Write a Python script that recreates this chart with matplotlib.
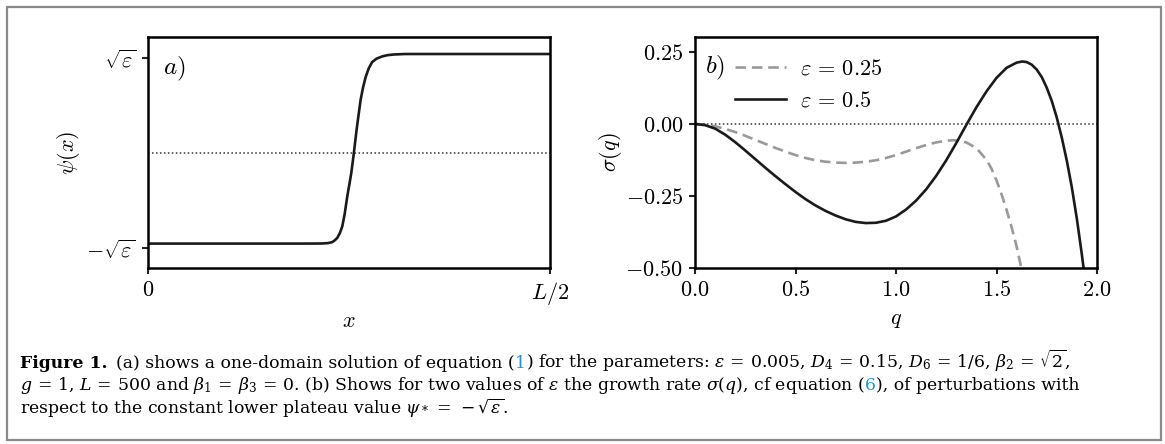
import matplotlib
matplotlib.use('Agg')
import matplotlib.pyplot as plt
from matplotlib.patches import Rectangle

plt.rcParams['mathtext.fontset'] = 'cm'
plt.rcParams['axes.linewidth'] = 1.8

W, H = 1165, 444

# panel a) one-domain profile, psi in units of sqrt(eps), x from 0 to L/2
x_a = [0, 50, 100, 108, 112, 114.5, 116, 117.7, 119.3, 120.8, 122.3, 123.9, 125.2,
       126.4, 128.0, 129.7, 131.0, 132.2, 133.7, 135.3, 137.3, 139.4, 142.0, 145.7,
       149.0, 152.9, 160, 200, 250]
psi_a = [-0.95, -0.95, -0.95, -0.949, -0.945, -0.935, -0.918, -0.89, -0.84, -0.77,
         -0.64, -0.456, -0.33, -0.21, 0.0, 0.245, 0.41, 0.56, 0.69, 0.80, 0.895, 0.96,
         0.995, 1.02, 1.033, 1.04, 1.045, 1.045, 1.045]
xticks_a = [0, 250]
xticklabels_a = ['$0$', '$L/2$']
yticks_a = [-1, 1]
yticklabels_a = [r'$-\sqrt{\varepsilon}$', r'$\sqrt{\varepsilon}$']

# panel b) growth rate sigma(q), eps = 0.5
q_05 = [0.0, 0.05, 0.10, 0.15, 0.20, 0.25, 0.30, 0.35, 0.40, 0.45, 0.50, 0.55, 0.60,
        0.65, 0.70, 0.75, 0.80, 0.85, 0.90, 0.95, 1.00, 1.05, 1.10, 1.15, 1.20, 1.25,
        1.30, 1.35, 1.40, 1.45, 1.50, 1.55, 1.60, 1.628, 1.65, 1.675, 1.70, 1.725, 1.75,
        1.775, 1.80, 1.825, 1.85, 1.875, 1.90, 1.925, 1.935]
sig_05 = [0.0, -0.004, -0.016, -0.037, -0.063, -0.092, -0.122, -0.152, -0.181, -0.209,
          -0.236, -0.261, -0.283, -0.302, -0.318, -0.331, -0.340, -0.344, -0.343, -0.336,
          -0.321, -0.297, -0.266, -0.227, -0.180, -0.126, -0.066, -0.003, 0.058, 0.113,
          0.160, 0.195, 0.213, 0.217, 0.215, 0.206, 0.189, 0.163, 0.126, 0.080, 0.022,
          -0.048, -0.128, -0.221, -0.330, -0.455, -0.51]
# eps = 0.25
q_025 = [0.0, 0.05, 0.10, 0.15, 0.20, 0.25, 0.30, 0.35, 0.40, 0.45, 0.50, 0.55, 0.60,
         0.65, 0.70, 0.75, 0.80, 0.85, 0.90, 0.95, 1.00, 1.05, 1.10, 1.15, 1.20, 1.25,
         1.28, 1.30, 1.35, 1.40, 1.45, 1.475, 1.50, 1.525, 1.55, 1.575, 1.60, 1.625, 1.64]
sig_025 = [0.0, -0.002, -0.008, -0.017, -0.028, -0.041, -0.055, -0.069, -0.083, -0.096,
           -0.108, -0.118, -0.126, -0.131, -0.134, -0.135, -0.134, -0.131, -0.126, -0.118,
           -0.108, -0.096, -0.084, -0.073, -0.064, -0.058, -0.0565, -0.057, -0.064, -0.084,
           -0.124, -0.155, -0.196, -0.244, -0.298, -0.358, -0.425, -0.505, -0.56]
xticks_b = [0.0, 0.5, 1.0, 1.5, 2.0]
yticks_b = [-0.50, -0.25, 0.00, 0.25]

fig = plt.figure(figsize=(W / 100, H / 100), dpi=100)
fig.patches.append(Rectangle((7 / W, 4 / H), 1154 / W, 433 / H, transform=fig.transFigure,
                             fill=False, ec='#8a8a8a', lw=1.6))

ax1 = fig.add_axes([148 / W, 1 - 268 / H, 402 / W, 231 / H])
ax2 = fig.add_axes([695 / W, 1 - 268 / H, 402 / W, 231 / H])

for ax in (ax1, ax2):
    ax.tick_params(length=4.5, width=1.5, pad=4, labelsize=16, color='#222222')

# a)
ax1.plot(x_a, psi_a, color='#1a1a1a', lw=1.9)
ax1.axhline(0, color='#333333', lw=1.1, ls=(0, (1, 1.6)))
ax1.set_xlim(0, 250)
ax1.set_ylim(-1.207, 1.224)
ax1.set_xticks(xticks_a)
ax1.set_xticklabels(xticklabels_a)
ax1.set_yticks(yticks_a)
ax1.set_yticklabels(yticklabels_a)
ax1.set_xlabel('$x$', fontsize=16, labelpad=3)
ax1.set_ylabel(r'$\psi(x)$', fontsize=16, labelpad=3)
ax1.text(0.038, 0.86, '$a)$', transform=ax1.transAxes, fontsize=18, va='center', ha='left')

# b)
ax2.plot(q_025, sig_025, color='#999999', lw=1.9, ls=(0, (4, 2.2)),
         label=r'$\varepsilon\,=\,0.25$')
ax2.plot(q_05, sig_05, color='#1a1a1a', lw=1.9, label=r'$\varepsilon\,=\,0.5$')
ax2.axhline(0, color='#333333', lw=1.1, ls=(0, (1, 1.6)))
ax2.set_xlim(0, 2.0)
ax2.set_ylim(-0.5, 0.302)
ax2.set_xticks(xticks_b)
ax2.set_xticklabels(['$%.1f$' % v for v in xticks_b])
ax2.set_yticks(yticks_b)
ax2.set_yticklabels(['$%.2f$' % v for v in yticks_b])
ax2.set_xlabel('$q$', fontsize=16, labelpad=7)
ax2.set_ylabel(r'$\sigma(q)$', fontsize=16, labelpad=1)
ax2.text(0.026, 0.866, '$b)$', transform=ax2.transAxes, fontsize=18, va='center', ha='left')
ax2.legend(loc='upper left', bbox_to_anchor=(0.1, 0.905), frameon=False, fontsize=16,
           handlelength=2.3, handletextpad=0.6, labelspacing=0.53, borderpad=0,
           borderaxespad=0)

# caption, laid out piece by piece
blue = '#2a8fd4'
cap = dict(family='DejaVu Serif', fontsize=12.4, math_fontfamily='dejavuserif')
bold = dict(cap, weight='bold')
lines = [
    (367.5, [('Figure 1.', bold, 0), ('(a) shows a one-domain solution of equation (', cap, 9),
             ('1', dict(cap, color=blue), 0),
             (r') for the parameters: $\varepsilon\,=\,0.005$, $D_4\,=\,0.15$, '
              r'$D_6\,=\,1/6$, $\beta_2\,=\,\sqrt{2}$,', cap, 0)]),
    (385.5, [(r'$g\,=\,1$, $L\,=\,500$ and $\beta_1\,=\,\beta_3\,=\,0$. (b) Shows for two '
              r'values of $\varepsilon$ the growth rate $\sigma(q)$, cf equation (', cap, 0),
             ('6', dict(cap, color=blue), 0), ('), of perturbations with', cap, 0)]),
    (405, [(r'respect to the constant lower plateau value '
            r'$\psi_*\,=\,-\sqrt{\varepsilon}$.', cap, 0)]),
]
r = fig.canvas.get_renderer()
prev_bottom = None
for y0, parts in lines:
    x = 20
    texts = []
    for s, kw, gap in parts:
        t = fig.text((x + gap) / W, 1 - y0 / H, s, va='baseline', ha='left', **kw)
        x = t.get_window_extent(r).x1
        texts.append(t)
    # nudge a line down if its box would touch the line above
    top = max(t.get_window_extent(r).y1 for t in texts)
    if prev_bottom is not None and top > prev_bottom - 1:
        shift = (top - prev_bottom + 1) / H
        for t in texts:
            t.set_y(t.get_position()[1] - shift)
    prev_bottom = min(t.get_window_extent(r).y0 for t in texts)

fig.savefig('out.png', dpi=100)
